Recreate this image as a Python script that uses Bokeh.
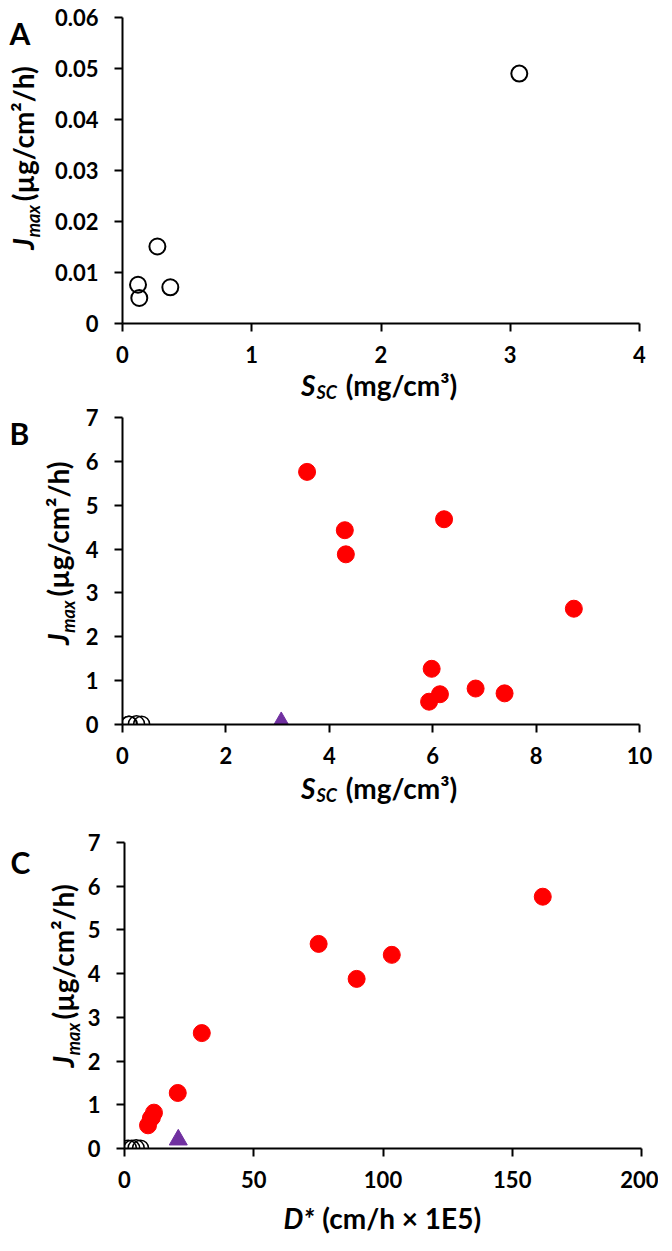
import math
from bokeh.plotting import figure
from bokeh.models import Range1d, FixedTicker, Label
from bokeh.layouts import column, row
from bokeh.embed import file_html
from bokeh.resources import INLINE

# ---------------- data ----------------
# Panel A: J_max vs S_SC (open circles)
A_S = [0.12, 0.13, 0.27, 0.37, 3.07]
A_J = [0.0076, 0.0050, 0.0151, 0.0071, 0.049]
A_XTICKS = [0, 1, 2, 3, 4]
A_XLABELS = ["0", "1", "2", "3", "4"]
A_YTICKS = [0, 0.01, 0.02, 0.03, 0.04, 0.05, 0.06]
A_YLABELS = ["0", "0.01", "0.02", "0.03", "0.04", "0.05", "0.06"]

# Panel B: J_max vs S_SC
B_S_RED = [3.57, 4.30, 4.32, 6.22, 8.73, 5.98, 5.93, 6.14, 6.83, 7.39]
B_J_RED = [5.76, 4.43, 3.88, 4.68, 2.64, 1.27, 0.52, 0.69, 0.82, 0.71]
B_S_OPEN = [0.12, 0.13, 0.27, 0.37]
B_J_OPEN = [0.0076, 0.0050, 0.0151, 0.0071]
B_S_TRI = [3.07]
B_J_TRI = [0.049]
B_XTICKS = [0, 2, 4, 6, 8, 10]
B_XLABELS = ["0", "2", "4", "6", "8", "10"]
B_YTICKS = [0, 1, 2, 3, 4, 5, 6, 7]
B_YLABELS = ["0", "1", "2", "3", "4", "5", "6", "7"]

# Panel C: J_max vs D*
C_D_RED = [161.8, 103.4, 89.8, 75.1, 29.9, 20.6, 9.1, 10.2, 11.4, 10.6]
C_J_RED = [5.76, 4.43, 3.88, 4.68, 2.64, 1.27, 0.53, 0.69, 0.82, 0.71]
C_D_OPEN = [1.5, 2.8, 4.5, 6.2]
C_J_OPEN = [0.0076, 0.0050, 0.0151, 0.0071]
C_D_TRI = [20.8]
C_J_TRI = [0.2]
C_XTICKS = [0, 50, 100, 150, 200]
C_XLABELS = ["0", "50", "100", "150", "200"]
C_YTICKS = B_YTICKS
C_YLABELS = B_YLABELS

# ---------------- style ----------------
FONT = "Lato"
RED = "#FF0000"
PURPLE = "#7030A0"
FW = 517           # frame width of every panel
TOTAL_W = 656
LS = 28            # axis-label font size
SS = 18            # subscript font size
GAP = 8            # visible space between label pieces

EM = {' ': 0.20, '(': 0.31, ')': 0.31, 'µ': 0.57, 'g': 0.51, '/': 0.38, 'c': 0.46,
      'm': 0.88, '²': 0.36, '³': 0.36, 'h': 0.57, 'J': 0.37, 'a': 0.53, 'x': 0.55,
      'S': 0.53, 'C': 0.65, 'D': 0.74, '*': 0.42, '×': 0.58, '1': 0.58, 'E': 0.55, '5': 0.58}


def tw(s, size):
    return sum(EM.get(ch, 0.55) for ch in s) * size


def make_panel(xend, yend, xticks, xlabels, yticks, ylabels, fh, bl, bt):
    p = figure(frame_width=FW, frame_height=fh,
               x_range=Range1d(0, xend), y_range=Range1d(0, yend),
               output_backend="svg", toolbar_location=None,
               min_border_left=bl, min_border_right=17,
               min_border_top=bt, min_border_bottom=44)
    p.grid.visible = False
    p.outline_line_color = None
    for ax, ticks, labels in ((p.xaxis[0], xticks, xlabels), (p.yaxis[0], yticks, ylabels)):
        ax.ticker = FixedTicker(ticks=ticks)
        ax.major_label_overrides = {t: l for t, l in zip(ticks, labels)}
        ax.minor_tick_line_color = None
        ax.major_tick_in = 0
        ax.major_tick_out = 8
        ax.axis_line_width = 2
        ax.major_tick_line_width = 2
        ax.axis_line_color = "black"
        ax.major_tick_line_color = "black"
        ax.major_label_text_font = FONT
        ax.major_label_text_font_style = "bold"
        ax.major_label_text_font_size = "22px"
        ax.major_label_text_color = "black"
    p.xaxis.major_label_standoff = 14
    p.yaxis.major_label_standoff = 16
    return p


def text_fig(w, h):
    f = figure(width=w, height=h, x_range=Range1d(0, w), y_range=Range1d(0, h),
               min_border=0, toolbar_location=None, output_backend="svg",
               x_axis_location=None, y_axis_location=None)
    f.grid.visible = False
    f.outline_line_color = None
    return f


def label(f, x, y, text, size, italic=False, angle=0.0, align="left"):
    f.add_layout(Label(x=x, y=y, text=text, text_font=FONT,
                       text_font_size=f"{size}px",
                       text_font_style="bold italic" if italic else "bold",
                       text_color="black", angle=angle,
                       text_align=align, text_baseline="middle"))


def y_label(f, x, cy):
    rest = "(µg/cm²/h)"
    total = tw("J", LS) + 1 + tw("max", SS) + GAP + tw(rest, LS)
    y0 = cy - total / 2 + tw("J", LS)
    a = math.pi / 2
    label(f, x, y0, "J", LS, True, a, "right")
    label(f, x + 10, y0 + 1, "max", SS, True, a, "left")
    label(f, x, y0 + 1 + tw("max", SS) + GAP, rest, LS, False, a, "left")


def x_label_s(f, cx, y):
    rest = "(mg/cm³)"
    total = tw("S", LS) + 1 + tw("SC", SS) + GAP + tw(rest, LS)
    x0 = cx - total / 2 + tw("S", LS)
    label(f, x0, y, "S", LS, True, 0, "right")
    label(f, x0 + 1, y - 7, "SC", SS, True, 0, "left")
    label(f, x0 + 1 + tw("SC", SS) + GAP, y, rest, LS, False, 0, "left")


def x_label_d(f, cx, y):
    rest = "(cm/h × 1E5)"
    total = tw("D*", LS) + GAP + tw(rest, LS)
    x0 = cx - total / 2 + tw("D*", LS)
    label(f, x0, y, "D*", LS, True, 0, "right")
    label(f, x0 + GAP, y, rest, LS, False, 0, "left")


AXIS_CX = 380  # frame centre, in the x-label strips' own pixels

# ---------------- Panel A ----------------
FHA = 306
LA = 44
pa = make_panel(4, 0.06, A_XTICKS, A_XLABELS, A_YTICKS, A_YLABELS, FHA, 122 - LA, 17)
pa.scatter(A_S, A_J, marker="circle", size=16, fill_color=None,
           line_color="black", line_width=2)
hA = 17 + FHA + 44                       # page 8 .. 375
leftA = text_fig(LA, hA)
label(leftA, 9, hA - 19, "A", 30)
y_label(leftA, 22, hA - 181.5)
xlabA = text_fig(TOTAL_W, 35)            # page 375 .. 410
x_label_s(xlabA, AXIS_CX, 18)

# ---------------- Panel B ----------------
FHB = 307
LB = 80
pb = make_panel(10, 7, B_XTICKS, B_XLABELS, B_YTICKS, B_YLABELS, FHB, 122 - LB, 15)
pb.scatter(B_S_OPEN, B_J_OPEN, marker="circle", size=16, fill_color=None,
           line_color="black", line_width=1.5)
pb.scatter(B_S_TRI, B_J_TRI, marker="triangle", size=18, fill_color=PURPLE,
           line_color=PURPLE)
pb.scatter(B_S_RED, B_J_RED, marker="circle", size=17, fill_color=RED,
           line_color=RED)
hB = 15 + FHB + 44                       # page 410 .. 776
leftB = text_fig(LB, hB)
label(leftB, 9, hB - 18, "B", 30)
y_label(leftB, 57, hB - 174.5)
xlabB = text_fig(TOTAL_W, 54)            # page 776 .. 830
x_label_s(xlabB, AXIS_CX, 35)

# ---------------- Panel C ----------------
FHC = 306
LC = 84
pc = make_panel(200, 7, C_XTICKS, C_XLABELS, C_YTICKS, C_YLABELS, FHC, 122 - LC, 20)
pc.scatter(C_D_OPEN, C_J_OPEN, marker="circle", size=16, fill_color=None,
           line_color="black", line_width=1.5)
pc.scatter(C_D_TRI, C_J_TRI, marker="triangle", size=18, fill_color=PURPLE,
           line_color=PURPLE)
pc.scatter(C_D_RED, C_J_RED, marker="circle", size=17, fill_color=RED,
           line_color=RED)
hC = 20 + FHC + 44                       # page 830 .. 1200
leftC = text_fig(LC, hC)
label(leftC, 10, hC - 23, "C", 30)
y_label(leftC, 62, hC - 175)
xlabC = text_fig(TOTAL_W, 43)            # page 1200 .. 1243
x_label_d(xlabC, AXIS_CX, 18)

layout = column(row(leftA, pa, spacing=0), xlabA,
                row(leftB, pb, spacing=0), xlabB,
                row(leftC, pc, spacing=0), xlabC, spacing=0)
open("out.html", "w").write(file_html(layout, INLINE))
